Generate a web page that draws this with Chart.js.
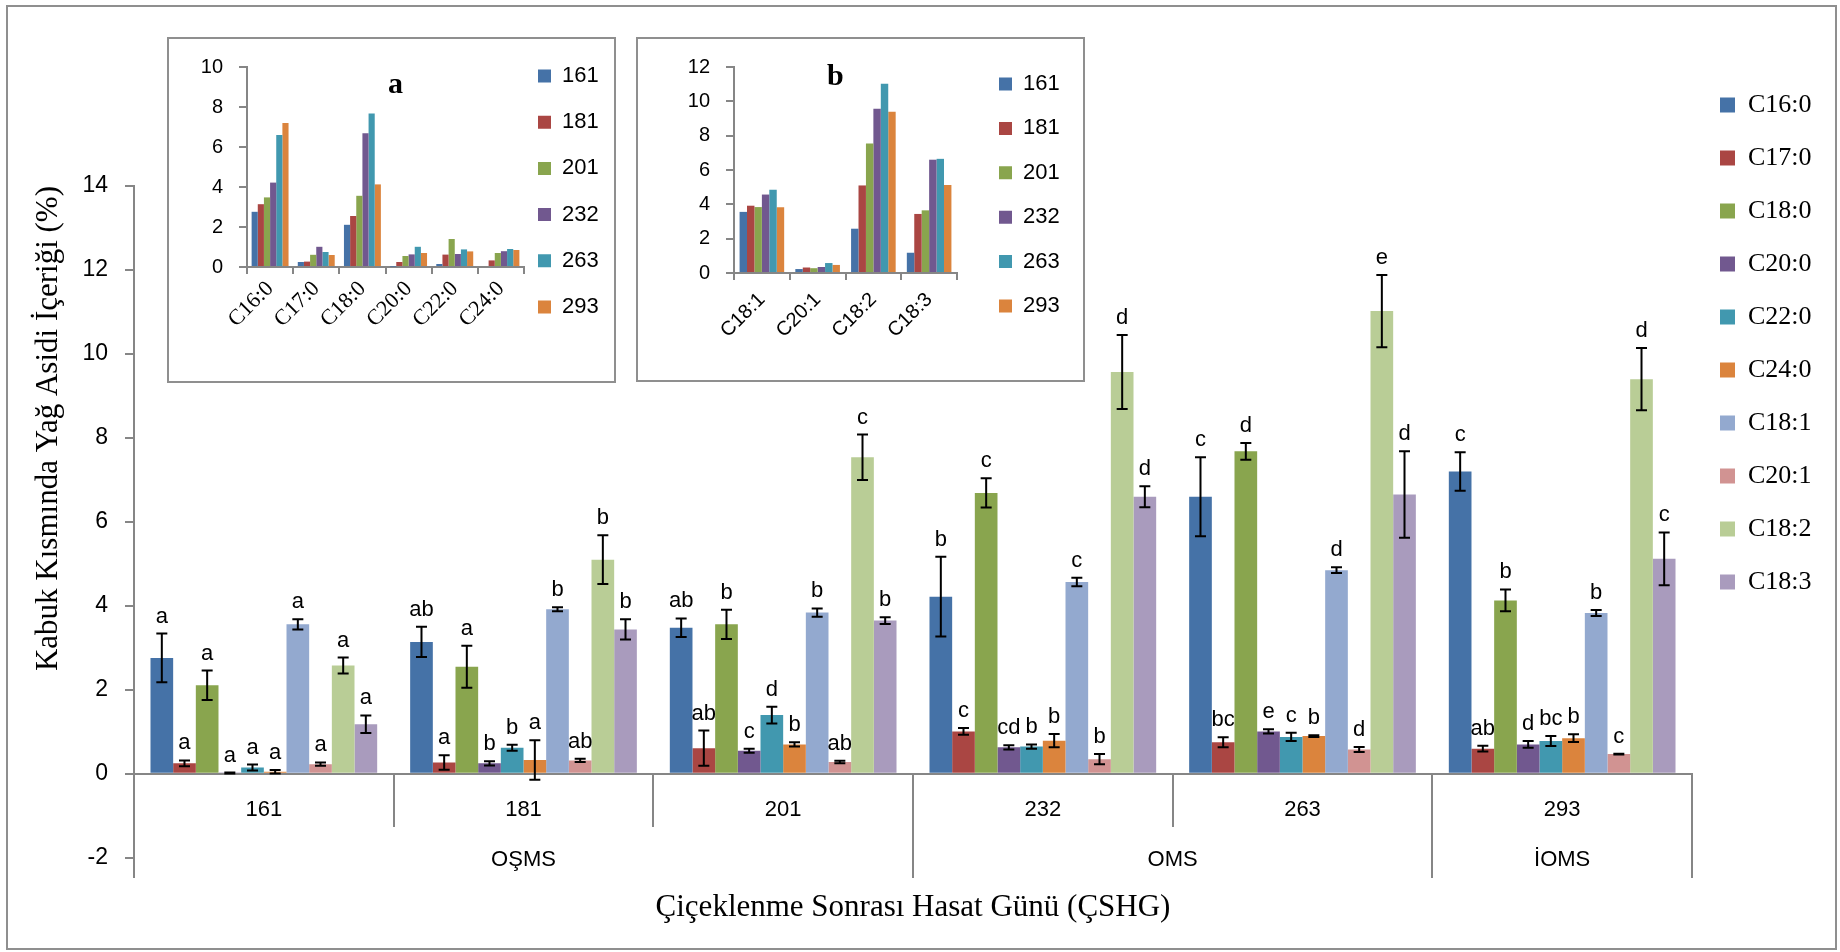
<!DOCTYPE html>
<html>
<head>
<meta charset="utf-8">
<script src="https://cdn.jsdelivr.net/npm/chart.js@4.4.1/dist/chart.umd.min.js"></script>
<style>
  body { margin: 0; background: #fff; }
  #page { position: relative; width: 1840px; height: 952px; }
  #frame { position: absolute; left: 6px; top: 5px; width: 1831px; height: 945px; border: 2px solid #8f8f8f; box-sizing: border-box; }
  .inset { position: absolute; background: #fff; border: 2px solid #8f8f8f; box-sizing: border-box; }
  .inset canvas { display: block; }
  .tag { position: absolute; font: bold 30px 'Liberation Serif', serif; line-height: 1; }
</style>
</head>
<body>
<div id="page">
  <div id="frame"></div>
  <canvas id="main" width="1840" height="952" style="position:absolute;left:0;top:0"></canvas>
  <div class="inset" style="left:167px;top:37px;width:449px;height:346px"><canvas id="insetA" width="445" height="342"></canvas></div>
  <div class="inset" style="left:636px;top:37px;width:449px;height:345px"><canvas id="insetB" width="445" height="341"></canvas></div>
  <div class="tag" style="left:388px;top:68px">a</div>
  <div class="tag" style="left:827px;top:60px">b</div>
</div>
<script>
// harvest days and stage groups
const days = ['161', '181', '201', '232', '263', '293']
const phases = ['OŞMS', 'OMS', 'İOMS']
const phaseSpans = [3, 2, 1]
const acids = ['C16:0', 'C17:0', 'C18:0', 'C20:0', 'C22:0', 'C24:0', 'C18:1', 'C20:1', 'C18:2', 'C18:3']

// means (%)
const c16_0 = [2.76, 3.14, 3.48, 4.22, 6.60, 7.20]
const c17_0 = [0.25, 0.27, 0.61, 1.01, 0.75, 0.60]
const c18_0 = [2.11, 2.55, 3.56, 6.69, 7.68, 4.13]
const c20_0 = [0.02, 0.25, 0.55, 0.63, 1.01, 0.70]
const c22_0 = [0.15, 0.62, 1.40, 0.65, 0.88, 0.78]
const c24_0 = [0.05, 0.33, 0.70, 0.79, 0.90, 0.85]
const c18_1 = [3.56, 3.92, 3.84, 4.57, 4.85, 3.83]
const c20_1 = [0.23, 0.32, 0.28, 0.35, 0.58, 0.47]
const c18_2 = [2.58, 5.10, 7.54, 9.57, 11.02, 9.40]
const c18_3 = [1.18, 3.44, 3.65, 6.60, 6.65, 5.12]

// error bars (+/-)
const c16_0_err = [0.58, 0.36, 0.22, 0.95, 0.94, 0.46]
const c17_0_err = [0.07, 0.17, 0.42, 0.08, 0.12, 0.07]
const c18_0_err = [0.35, 0.50, 0.35, 0.35, 0.20, 0.26]
const c20_0_err = [0.01, 0.05, 0.05, 0.05, 0.05, 0.08]
const c22_0_err = [0.07, 0.07, 0.20, 0.05, 0.10, 0.12]
const c24_0_err = [0.04, 0.47, 0.05, 0.16, 0.02, 0.09]
const c18_1_err = [0.12, 0.05, 0.10, 0.10, 0.07, 0.07]
const c20_1_err = [0.04, 0.04, 0.03, 0.12, 0.06, 0.01]
const c18_2_err = [0.19, 0.58, 0.54, 0.88, 0.86, 0.74]
const c18_3_err = [0.21, 0.24, 0.08, 0.25, 1.03, 0.63]

// significance letters
const c16_0_sig = ['a', 'ab', 'ab', 'b', 'c', 'c']
const c17_0_sig = ['a', 'a', 'ab', 'c', 'bc', 'ab']
const c18_0_sig = ['a', 'a', 'b', 'c', 'd', 'b']
const c20_0_sig = ['a', 'b', 'c', 'cd', 'e', 'd']
const c22_0_sig = ['a', 'b', 'd', 'b', 'c', 'bc']
const c24_0_sig = ['a', 'a', 'b', 'b', 'b', 'b']
const c18_1_sig = ['a', 'b', 'b', 'c', 'd', 'b']
const c20_1_sig = ['a', 'ab', 'ab', 'b', 'd', 'c']
const c18_2_sig = ['a', 'b', 'c', 'd', 'e', 'd']
const c18_3_sig = ['a', 'b', 'b', 'd', 'd', 'c']

const colors = ['#4572A7', '#AA4643', '#89A54E', '#71588F', '#4198AF', '#DB843D', '#93A9CF', '#D19392', '#B9CD96', '#A99BBD']
const GRAY = '#868686'

const means = [c16_0, c17_0, c18_0, c20_0, c22_0, c24_0, c18_1, c20_1, c18_2, c18_3]
const errs = [c16_0_err, c17_0_err, c18_0_err, c20_0_err, c22_0_err, c24_0_err, c18_1_err, c20_1_err, c18_2_err, c18_3_err]
const sigs = [c16_0_sig, c17_0_sig, c18_0_sig, c20_0_sig, c22_0_sig, c24_0_sig, c18_1_sig, c20_1_sig, c18_2_sig, c18_3_sig]

// stage boundaries / centres on a 0..days.length axis
const phaseBounds = [0]
phaseSpans.forEach(s => phaseBounds.push(phaseBounds[phaseBounds.length - 1] + s))
const phaseCenters = phaseSpans.map((s, i) => phaseBounds[i] + s / 2)

Chart.defaults.font.family = "'Liberation Sans', Arial, sans-serif"
Chart.defaults.color = '#000'
Chart.defaults.animation = false

// move the legend to a fixed spot after layout
const placeLegend = {
  id: 'placeLegend',
  afterLayout(chart, args, opts) {
    const lg = chart.legend
    const pad = lg.options.labels.padding
    lg.left = opts.x - pad
    lg.top = opts.y - pad
    lg.right = chart.width
    lg.bottom = chart.height
    lg.width = lg.right - lg.left
    lg.height = lg.bottom - lg.top
  }
}

const errorBars = {
  id: 'errorBars',
  afterDatasetsDraw(chart) {
    const ctx = chart.ctx
    const y = chart.scales.y
    ctx.save()
    chart.data.datasets.forEach((ds, i) => {
      const meta = chart.getDatasetMeta(i)
      meta.data.forEach((bar, j) => {
        const v = ds.data[j], e = ds.errors[j]
        const top = y.getPixelForValue(v + e)
        const bot = y.getPixelForValue(v - e)
        ctx.strokeStyle = '#000'
        ctx.lineWidth = 2
        ctx.beginPath()
        ctx.moveTo(bar.x, top); ctx.lineTo(bar.x, bot)
        ctx.moveTo(bar.x - 5.5, top); ctx.lineTo(bar.x + 5.5, top)
        ctx.moveTo(bar.x - 5.5, bot); ctx.lineTo(bar.x + 5.5, bot)
        ctx.stroke()
        ctx.fillStyle = '#000'
        ctx.font = "22px 'Liberation Sans', Arial, sans-serif"
        ctx.textAlign = 'center'
        ctx.textBaseline = 'alphabetic'
        ctx.fillText(ds.letters[j], bar.x, top - 11)
      })
    })
    ctx.restore()
  }
}

const zeroHeight = s => { s.height = 0; s.paddingLeft = 0; s.paddingRight = 0 }

new Chart(document.getElementById('main'), {
  type: 'bar',
  data: {
    labels: days,
    datasets: acids.map((name, i) => ({
      label: name,
      data: means[i],
      errors: errs[i],
      letters: sigs[i],
      backgroundColor: colors[i],
      borderWidth: 0,
      categoryPercentage: 0.873,
      barPercentage: 1,
    })),
  },
  options: {
    responsive: false,
    devicePixelRatio: 1,
    layout: { padding: { left: 0, top: 186, right: 147, bottom: 0 } },
    plugins: {
      tooltip: { enabled: false },
      legend: {
        position: 'right',
        align: 'start',
        maxWidth: 1,
        labels: { boxWidth: 15, boxHeight: 15, padding: 27, color: '#000', font: { family: "'Liberation Serif', serif", size: 26 } },
      },
      placeLegend: { x: 1720, y: 92 },
      title: {
        display: true,
        position: 'bottom',
        fullSize: false,
        text: 'Çiçeklenme Sonrası Hasat Günü (ÇSHG)',
        color: '#000',
        font: { family: "'Liberation Serif', serif", size: 31, weight: 'normal' },
        padding: { top: 31, bottom: 26 },
      },
    },
    scales: {
      y: {
        min: -2,
        max: 14,
        ticks: { stepSize: 2, padding: 17, font: { size: 23 } },
        grid: { drawOnChartArea: false, tickLength: 9, color: GRAY, lineWidth: 2 },
        border: { color: GRAY, width: 2 },
        title: {
          display: true,
          text: 'Kabuk Kısmında Yağ Asidi İçeriği (%)',
          align: 'end',
          color: '#000',
          font: { family: "'Liberation Serif', serif", size: 31 },
          padding: { top: 30, bottom: 0 },
        },
        afterFit: s => { s.width = 134 },
      },
      x: {
        type: 'category',
        position: { y: 0 },
        offset: true,
        grid: { offset: true, drawOnChartArea: false, tickLength: 52, color: GRAY, lineWidth: 2 },
        border: { color: GRAY, width: 2 },
        ticks: { display: false },
        afterFit: zeroHeight,
      },
      xDays: {
        type: 'category',
        labels: days,
        position: { y: 0 },
        offset: true,
        grid: { display: false, drawTicks: false },
        border: { display: false },
        ticks: { padding: 23, autoSkip: false, maxRotation: 0, minRotation: 0, font: { size: 22 } },
        afterFit: zeroHeight,
      },
      xPhase: {
        type: 'linear',
        min: 0,
        max: days.length,
        offset: false,
        position: { y: 0 },
        grid: { display: false, drawTicks: false, offset: false },
        border: { display: false },
        afterBuildTicks: s => { s.ticks = phaseCenters.map(v => ({ value: v })) },
        ticks: { padding: 73, autoSkip: false, maxRotation: 0, minRotation: 0, font: { size: 22 }, callback: (v, i) => phases[i] },
        afterFit: zeroHeight,
      },
      xDiv: {
        type: 'linear',
        min: 0,
        max: days.length,
        offset: false,
        position: { y: 0 },
        grid: { offset: false, drawOnChartArea: false, tickLength: 104, color: GRAY, lineWidth: 2 },
        border: { display: false },
        afterBuildTicks: s => { s.ticks = phaseBounds.map(v => ({ value: v })) },
        ticks: { display: false },
        afterFit: zeroHeight,
      },
    },
  },
  plugins: [placeLegend, errorBars],
})

// small inset charts: same means, grouped by fatty acid
function inset(canvasId, first, last, opt) {
  const cats = acids.slice(first, last)
  return new Chart(document.getElementById(canvasId), {
    type: 'bar',
    data: {
      labels: cats,
      datasets: days.map((d, k) => ({
        label: d,
        data: means.slice(first, last).map(arr => arr[k]),
        backgroundColor: colors[k],
        borderWidth: 0,
        categoryPercentage: 0.8,
        barPercentage: 1,
      })),
    },
    options: {
      responsive: false,
      devicePixelRatio: 1,
      layout: { padding: { left: 0, top: opt.top, right: opt.right, bottom: 0 } },
      plugins: {
        tooltip: { enabled: false },
        legend: {
          position: 'right',
          align: 'start',
          maxWidth: 1,
          labels: { boxWidth: 13, boxHeight: 13, padding: opt.legendPad, color: '#000', font: { size: 22 } },
        },
        placeLegend: { x: opt.legendX, y: opt.legendY },
      },
      scales: {
        y: {
          min: 0,
          max: opt.max,
          ticks: { stepSize: 2, padding: 16, font: { size: 20 } },
          grid: { drawOnChartArea: false, tickLength: 8, color: GRAY, lineWidth: 2 },
          border: { color: GRAY, width: 2 },
          afterFit: s => { s.width = opt.left },
        },
        x: {
          grid: { offset: true, drawOnChartArea: false, tickLength: 7, color: GRAY, lineWidth: 2 },
          border: { color: GRAY, width: 2 },
          ticks: { autoSkip: false, minRotation: 45, maxRotation: 45, padding: opt.xPad, font: opt.xFont },
          afterFit: s => { s.height = opt.xHeight },
        },
      },
    },
    plugins: [placeLegend],
  })
}

inset('insetA', 0, 6, {
  max: 10, top: 13, right: 89, left: 78, xHeight: 114, xPad: 2,
  xFont: { family: "'Liberation Serif', serif", size: 22 },
  legendPad: 24.2, legendX: 369, legendY: 26,
})
inset('insetB', 6, 10, {
  max: 12, top: 14, right: 125, left: 96, xHeight: 107, xPad: 8,
  xFont: { size: 20 },
  legendPad: 22.4, legendX: 361, legendY: 34,
})
</script>
</body>
</html>
